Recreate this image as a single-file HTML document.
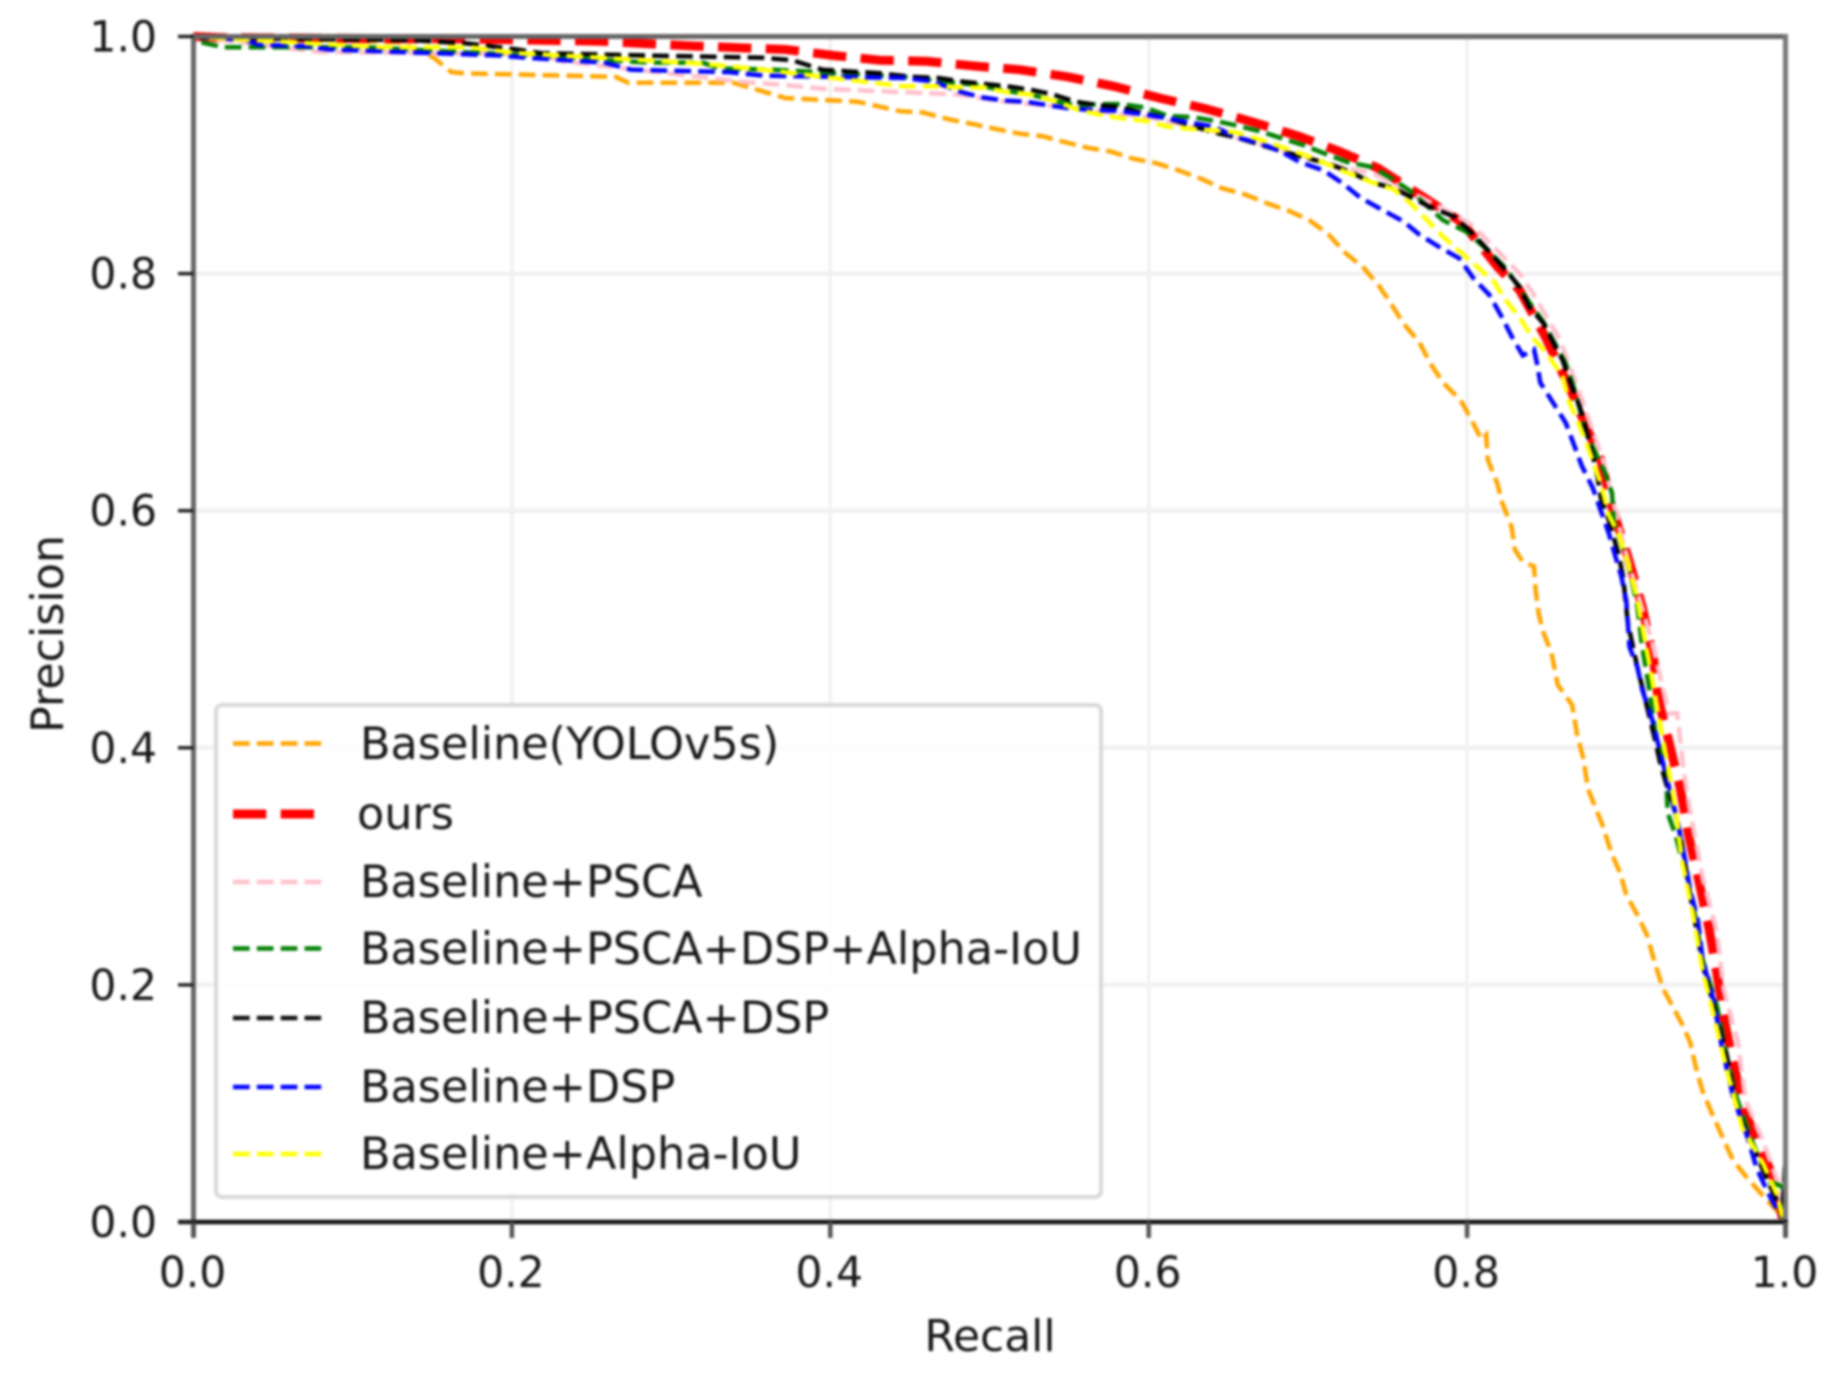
<!DOCTYPE html>
<html lang="en">
<head>
<meta charset="utf-8">
<title>Precision-Recall Curves</title>
<style>
html,body{margin:0;padding:0;background:#fff;width:1836px;height:1389px;overflow:hidden}
svg{display:block;filter:blur(1.2px)}
text{font-family:"DejaVu Sans","Liberation Sans",sans-serif;fill:#161616}
</style>
</head>
<body>
<svg id="chart" xmlns="http://www.w3.org/2000/svg" width="1836" height="1389" viewBox="0 0 1836 1389">
  <rect x="-10" y="-10" width="1856" height="1409" fill="#fff"/>
  <g id="grid"></g>
  <g id="series"></g>
  <g id="axes">
    <line x1="191" x2="1788" y1="36.5" y2="36.5" stroke="#666" stroke-width="5"/>
    <line x1="193.5" x2="193.5" y1="34" y2="1237" stroke="#666" stroke-width="5"/>
    <line x1="1785.5" x2="1785.5" y1="34" y2="1237" stroke="#777" stroke-width="5"/>
    <line x1="178" x2="1788" y1="1222" y2="1222" stroke="#111" stroke-width="4.5"/>
  </g>
  <g id="ticks"></g>
  <text x="990" y="1351" font-size="44" text-anchor="middle">Recall</text>
  <text transform="translate(63,634) rotate(-90)" font-size="44.4" text-anchor="middle">Precision</text>
  <g>
    <rect x="216" y="705" width="885" height="492" rx="6" ry="6" fill="#fff" fill-opacity="0.85" stroke="#d8d8d8" stroke-width="4"/>
    <g>
      <line x1="233" x2="322" y1="743.5" y2="743.5" stroke="orange" stroke-width="4.5" stroke-dasharray="16.65 7.2"/>
      <text x="360" y="759" font-size="44.5">Baseline(YOLOv5s)</text>
    </g>
    <g>
      <line x1="233" x2="322" y1="814" y2="814" stroke="red" stroke-width="9" stroke-dasharray="33.3 14.4"/>
      <text x="357" y="829" font-size="44.5">ours</text>
    </g>
    <g>
      <line x1="233" x2="322" y1="882" y2="882" stroke="pink" stroke-width="4.5" stroke-dasharray="16.65 7.2"/>
      <text x="360" y="897" font-size="44.5">Baseline+PSCA</text>
    </g>
    <g>
      <line x1="233" x2="322" y1="948.5" y2="948.5" stroke="green" stroke-width="4.5" stroke-dasharray="16.65 7.2"/>
      <text x="360" y="964" font-size="44.5">Baseline+PSCA+DSP+Alpha-IoU</text>
    </g>
    <g>
      <line x1="233" x2="322" y1="1018" y2="1018" stroke="#111" stroke-width="4.5" stroke-dasharray="16.65 7.2"/>
      <text x="360" y="1033" font-size="44.5">Baseline+PSCA+DSP</text>
    </g>
    <g>
      <line x1="233" x2="322" y1="1087" y2="1087" stroke="blue" stroke-width="4.5" stroke-dasharray="16.65 7.2"/>
      <text x="360" y="1102" font-size="44.5">Baseline+DSP</text>
    </g>
    <g>
      <line x1="233" x2="322" y1="1154" y2="1154" stroke="yellow" stroke-width="4.5" stroke-dasharray="16.65 7.2"/>
      <text x="360" y="1169" font-size="44.5">Baseline+Alpha-IoU</text>
    </g>
  </g>
</svg>
<script>
var xTickValues = [0, 0.2, 0.4, 0.6, 0.8, 1.0];
var yTickValues = [0, 0.2, 0.4, 0.6, 0.8, 1.0];
var xTickLabels = ["0.0", "0.2", "0.4", "0.6", "0.8", "1.0"];
var yTickLabels = ["0.0", "0.2", "0.4", "0.6", "0.8", "1.0"];

var orangeRecall = [0,0.05,0.09,0.13,0.151,0.162,0.17,0.2,0.265,0.273,0.339,0.372,0.417,0.444,0.458,0.475,0.49,0.504,0.519,0.533,0.547,0.562,0.576,0.59,0.605,0.619,0.633,0.646,0.66,0.675,0.688,0.701,0.713,0.723,0.735,0.745,0.752,0.76,0.77,0.777,0.785,0.796,0.803,0.809,0.812,0.813,0.819,0.822,0.828,0.83,0.835,0.842,0.843,0.845,0.848,0.853,0.857,0.866,0.869,0.873,0.876,0.885,0.891,0.896,0.9,0.907,0.913,0.918,0.923,0.929,0.935,0.94,0.944,0.948,0.953,0.959,0.967,0.976,0.986,0.999];
var orangePrecision = [1,0.998,0.997,0.995,0.982,0.97,0.969,0.968,0.966,0.961,0.961,0.948,0.945,0.937,0.936,0.93,0.926,0.922,0.918,0.916,0.911,0.906,0.903,0.897,0.893,0.887,0.88,0.872,0.867,0.859,0.853,0.845,0.833,0.818,0.805,0.789,0.775,0.758,0.742,0.724,0.708,0.693,0.676,0.66,0.664,0.643,0.623,0.607,0.586,0.567,0.557,0.553,0.533,0.513,0.497,0.48,0.453,0.436,0.412,0.391,0.365,0.335,0.31,0.295,0.276,0.259,0.242,0.218,0.197,0.182,0.167,0.152,0.129,0.11,0.094,0.076,0.052,0.037,0.022,0.003];

var redRecall = [0,0.019,0.166,0.255,0.284,0.314,0.372,0.402,0.431,0.461,0.491,0.519,0.549,0.578,0.607,0.636,0.665,0.694,0.72,0.744,0.773,0.797,0.819,0.833,0.849,0.86,0.865,0.875,0.884,0.891,0.901,0.91,0.917,0.92,0.927,0.934,0.939,0.946,0.952,0.957,0.962,0.968,0.974,0.986,0.995,0.998];
var redPrecision = [1,0.999,0.998,0.996,0.994,0.992,0.989,0.984,0.98,0.979,0.975,0.972,0.966,0.958,0.948,0.939,0.928,0.916,0.903,0.889,0.864,0.843,0.806,0.786,0.747,0.716,0.702,0.67,0.643,0.603,0.561,0.519,0.476,0.442,0.404,0.365,0.327,0.285,0.247,0.209,0.167,0.129,0.094,0.057,0.03,0.003];

var pinkRecall = [0,0.019,0.078,0.217,0.232,0.343,0.372,0.395,0.446,0.465,0.48,0.51,0.55,0.58,0.6,0.64,0.68,0.72,0.74,0.754,0.78,0.792,0.804,0.833,0.841,0.858,0.869,0.886,0.898,0.905,0.916,0.923,0.927,0.932,0.936,0.94,0.948,0.957,0.961,0.97,0.975,0.986,0.995,0.998];
var pinkPrecision = [1,0.997,0.987,0.985,0.979,0.962,0.959,0.956,0.953,0.952,0.951,0.945,0.94,0.935,0.932,0.92,0.905,0.89,0.885,0.876,0.858,0.85,0.84,0.8,0.784,0.745,0.706,0.64,0.573,0.54,0.49,0.45,0.429,0.429,0.381,0.347,0.29,0.244,0.197,0.152,0.102,0.068,0.034,0.004];

var greenRecall = [0.005,0.019,0.063,0.107,0.15,0.2,0.285,0.32,0.33,0.365,0.446,0.492,0.511,0.526,0.54,0.554,0.569,0.583,0.598,0.612,0.627,0.641,0.655,0.67,0.684,0.698,0.711,0.725,0.74,0.754,0.764,0.785,0.8,0.811,0.824,0.841,0.848,0.862,0.867,0.875,0.886,0.891,0.892,0.901,0.907,0.91,0.914,0.918,0.925,0.926,0.931,0.935,0.942,0.948,0.957,0.963,0.969,0.979,0.99,0.998,0.999];
var greenPrecision = [0.995,0.991,0.991,0.991,0.988,0.985,0.978,0.978,0.973,0.972,0.966,0.959,0.954,0.951,0.946,0.942,0.943,0.943,0.94,0.933,0.932,0.929,0.925,0.92,0.914,0.908,0.901,0.894,0.89,0.879,0.87,0.845,0.835,0.822,0.805,0.772,0.759,0.724,0.704,0.665,0.634,0.615,0.592,0.556,0.519,0.485,0.453,0.415,0.377,0.345,0.326,0.305,0.267,0.221,0.182,0.141,0.106,0.068,0.034,0.03,0.004];

var blackRecall = [0.004,0.137,0.173,0.203,0.218,0.284,0.358,0.376,0.395,0.431,0.451,0.468,0.482,0.511,0.526,0.54,0.554,0.569,0.583,0.598,0.612,0.641,0.655,0.684,0.712,0.726,0.74,0.754,0.777,0.792,0.804,0.813,0.824,0.833,0.839,0.848,0.854,0.86,0.866,0.871,0.879,0.882,0.884,0.889,0.895,0.898,0.901,0.907,0.918,0.921,0.925,0.929,0.934,0.94,0.948,0.955,0.963,0.969,0.973,0.988,0.996,0.998,1];
var blackPrecision = [0.999,0.997,0.994,0.989,0.986,0.984,0.982,0.98,0.972,0.969,0.966,0.965,0.962,0.958,0.955,0.951,0.945,0.942,0.94,0.935,0.931,0.919,0.915,0.903,0.893,0.886,0.877,0.872,0.856,0.848,0.833,0.82,0.803,0.789,0.772,0.758,0.742,0.727,0.704,0.687,0.647,0.628,0.611,0.592,0.564,0.544,0.505,0.468,0.407,0.389,0.37,0.354,0.327,0.277,0.217,0.182,0.141,0.099,0.084,0.037,0.014,0.003,0.056];

var blueRecall = [0.004,0.033,0.041,0.07,0.085,0.192,0.21,0.258,0.275,0.336,0.358,0.446,0.465,0.48,0.494,0.509,0.523,0.537,0.552,0.568,0.583,0.598,0.612,0.627,0.641,0.655,0.67,0.683,0.695,0.71,0.722,0.733,0.745,0.76,0.77,0.783,0.795,0.804,0.814,0.822,0.828,0.835,0.842,0.844,0.846,0.854,0.862,0.867,0.872,0.879,0.884,0.889,0.893,0.897,0.9,0.902,0.907,0.91,0.916,0.932,0.936,0.94,0.945,0.948,0.955,0.96,0.967,0.976,0.982,0.99,0.997];
var bluePrecision = [1,0.997,0.993,0.992,0.989,0.984,0.982,0.978,0.972,0.97,0.967,0.965,0.962,0.954,0.949,0.946,0.945,0.942,0.939,0.938,0.937,0.934,0.931,0.927,0.924,0.915,0.91,0.903,0.894,0.887,0.876,0.864,0.855,0.844,0.833,0.822,0.813,0.796,0.782,0.763,0.747,0.731,0.736,0.724,0.708,0.691,0.674,0.656,0.638,0.619,0.6,0.581,0.562,0.544,0.524,0.485,0.468,0.449,0.425,0.339,0.312,0.281,0.254,0.221,0.186,0.148,0.106,0.072,0.045,0.022,0.005];

var yellowRecall = [0.01,0.118,0.173,0.203,0.284,0.32,0.358,0.446,0.468,0.482,0.497,0.511,0.526,0.54,0.554,0.569,0.583,0.598,0.612,0.627,0.641,0.655,0.67,0.683,0.698,0.711,0.725,0.74,0.754,0.764,0.775,0.785,0.796,0.807,0.817,0.824,0.833,0.841,0.85,0.86,0.864,0.869,0.875,0.88,0.884,0.889,0.895,0.901,0.907,0.91,0.914,0.923,0.928,0.931,0.935,0.942,0.948,0.955,0.963,0.973,0.986,0.995,0.998];
var yellowPrecision = [0.999,0.991,0.991,0.986,0.98,0.977,0.972,0.958,0.958,0.957,0.957,0.953,0.951,0.946,0.939,0.934,0.931,0.929,0.924,0.922,0.921,0.919,0.913,0.907,0.9,0.893,0.885,0.877,0.871,0.86,0.845,0.831,0.818,0.805,0.793,0.778,0.763,0.746,0.733,0.713,0.692,0.677,0.657,0.638,0.623,0.596,0.581,0.556,0.525,0.502,0.474,0.407,0.37,0.347,0.305,0.259,0.212,0.174,0.129,0.079,0.049,0.022,0.004];

var SVG_NS = "http://www.w3.org/2000/svg";

function xScale(v) { return 193.5 + v * 1592; }
function yScale(v) { return 1222 - v * 1185.5; }

function makePath(xs, ys) {
  var d = "";
  for (var i = 0; i < xs.length; i++) {
    d += (i === 0 ? "M" : "L") + xScale(xs[i]).toFixed(1) + " " + yScale(ys[i]).toFixed(1);
  }
  return d;
}

function drawSeries(name, xs, ys, color, width) {
  var el = document.createElementNS(SVG_NS, "path");
  
  
  el.setAttribute("d", makePath(xs, ys));
  el.setAttribute("fill", "none");
  el.setAttribute("stroke", color);
  el.setAttribute("stroke-width", width);
  el.setAttribute("stroke-dasharray", (width * 3.7) + " " + (width * 1.6));
  document.getElementById("series").appendChild(el);
}

function drawGridAndTicks() {
  var grid = document.getElementById("grid");
  var ticks = document.getElementById("ticks");
  xTickValues.forEach(function (v, i) {
    var x = xScale(v);
    var gl = document.createElementNS(SVG_NS, "line");
    
    
    gl.setAttribute("x1", x); gl.setAttribute("x2", x);
    gl.setAttribute("y1", yScale(0)); gl.setAttribute("y2", yScale(1));
    gl.setAttribute("stroke", "#f1f1f1"); gl.setAttribute("stroke-width", "3.5");
    grid.appendChild(gl);
    var t = document.createElementNS(SVG_NS, "line");
    
    
    t.setAttribute("x1", x); t.setAttribute("x2", x);
    t.setAttribute("y1", 1222); t.setAttribute("y2", 1238);
    t.setAttribute("stroke", "#555"); t.setAttribute("stroke-width", "4.5");
    ticks.appendChild(t);
    var lab = document.createElementNS(SVG_NS, "text");
    
    
    lab.setAttribute("x", x - 1); lab.setAttribute("y", 1287);
    lab.setAttribute("font-size", "42.5");
    lab.setAttribute("text-anchor", "middle");
    lab.textContent = xTickLabels[i];
    ticks.appendChild(lab);
  });
  yTickValues.forEach(function (v, i) {
    var y = yScale(v);
    var gl = document.createElementNS(SVG_NS, "line");
    
    
    gl.setAttribute("x1", xScale(0)); gl.setAttribute("x2", xScale(1));
    gl.setAttribute("y1", y); gl.setAttribute("y2", y);
    gl.setAttribute("stroke", "#f1f1f1"); gl.setAttribute("stroke-width", "4.5");
    grid.appendChild(gl);
    var t = document.createElementNS(SVG_NS, "line");
    
    
    t.setAttribute("x1", 178); t.setAttribute("x2", xScale(0));
    t.setAttribute("y1", y); t.setAttribute("y2", y);
    t.setAttribute("stroke", "#222"); t.setAttribute("stroke-width", "3.5");
    ticks.appendChild(t);
    var lab = document.createElementNS(SVG_NS, "text");
    
    
    lab.setAttribute("x", 157); lab.setAttribute("y", y + 15);
    lab.setAttribute("font-size", "42.5");
    lab.setAttribute("text-anchor", "end");
    lab.textContent = yTickLabels[i];
    ticks.appendChild(lab);
  });
}

drawGridAndTicks();
drawSeries("series-baseline-yolov5s", orangeRecall, orangePrecision, "orange", 4.5);
drawSeries("series-ours", redRecall, redPrecision, "red", 9);
drawSeries("series-baseline-psca", pinkRecall, pinkPrecision, "pink", 4.5);
drawSeries("series-baseline-psca-dsp-alpha-iou", greenRecall, greenPrecision, "green", 4.5);
drawSeries("series-baseline-psca-dsp", blackRecall, blackPrecision, "#000", 4.5);
drawSeries("series-baseline-dsp", blueRecall, bluePrecision, "blue", 4.5);
drawSeries("series-baseline-alpha-iou", yellowRecall, yellowPrecision, "yellow", 4.5);
</script>
</body>
</html>
